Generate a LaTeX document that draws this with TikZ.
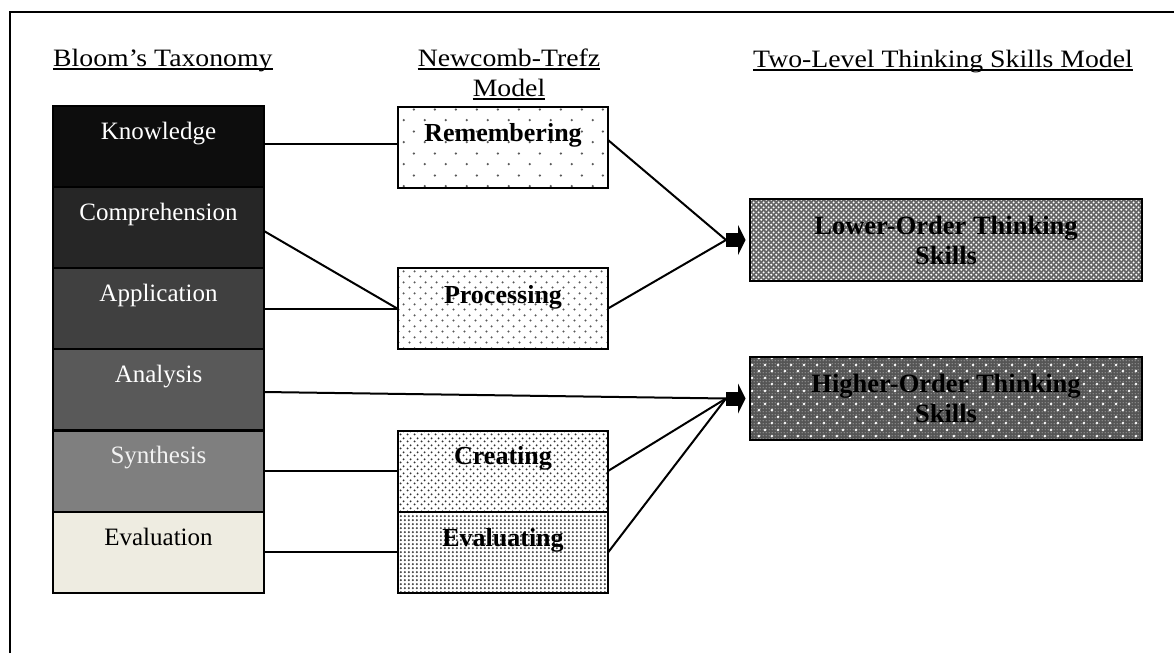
\documentclass[tikz,border=0pt]{standalone}
\usepackage{fontspec}
\setmainfont{Liberation Serif}
\newfontfamily\hdfont[FakeStretch=1.11]{Liberation Serif}
\usetikzlibrary{patterns,calc}

\definecolor{cKnow}{HTML}{0D0D0D}
\definecolor{cComp}{HTML}{262626}
\definecolor{cAppl}{HTML}{404040}
\definecolor{cAnal}{HTML}{595959}
\definecolor{cSynt}{HTML}{7F7F7F}
\definecolor{cEval}{HTML}{EEECE1}
\definecolor{lotsbg}{HTML}{666666}
\definecolor{hotsbg}{HTML}{555555}

\pgfdeclarepatternformonly{dotsA}{\pgfpointorigin}{\pgfpoint{21pt}{22pt}}{\pgfpoint{21pt}{22pt}}{%
  \pgfpathcircle{\pgfpoint{5pt}{5pt}}{1.3pt}\pgfpathcircle{\pgfpoint{15.5pt}{16pt}}{1.3pt}\pgfusepath{fill}}
\pgfdeclarepatternformonly{dotsB}{\pgfpointorigin}{\pgfpoint{11pt}{11pt}}{\pgfpoint{11pt}{11pt}}{%
  \pgfpathcircle{\pgfpoint{2.75pt}{2.75pt}}{1.25pt}\pgfpathcircle{\pgfpoint{8.25pt}{8.25pt}}{1.25pt}\pgfusepath{fill}}
\pgfdeclarepatternformonly{dotsC}{\pgfpointorigin}{\pgfpoint{7pt}{7pt}}{\pgfpoint{7pt}{7pt}}{%
  \pgfpathcircle{\pgfpoint{1.75pt}{1.75pt}}{1.15pt}\pgfpathcircle{\pgfpoint{5.25pt}{5.25pt}}{1.15pt}\pgfusepath{fill}}
\pgfdeclarepatternformonly{dotsD}{\pgfpointorigin}{\pgfpoint{4.3pt}{4.3pt}}{\pgfpoint{4.3pt}{4.3pt}}{%
  \pgfpathcircle{\pgfpoint{2.15pt}{2.15pt}}{1.3pt}\pgfusepath{fill}}
\pgfdeclarepatternformonly{dotsL}{\pgfpointorigin}{\pgfpoint{5.4pt}{5.4pt}}{\pgfpoint{5.4pt}{5.4pt}}{%
  \pgfpathcircle{\pgfpoint{1.35pt}{1.35pt}}{1.2pt}\pgfpathcircle{\pgfpoint{4.05pt}{4.05pt}}{1.2pt}\pgfusepath{fill}}
\pgfdeclarepatternformonly{dotsHf}{\pgfpointorigin}{\pgfpoint{3pt}{3pt}}{\pgfpoint{3pt}{3pt}}{%
  \pgfpathcircle{\pgfpoint{1.5pt}{1.5pt}}{0.65pt}\pgfusepath{fill}}
\pgfdeclarepatternformonly{dotsHb}{\pgfpointorigin}{\pgfpoint{12.6pt}{12.6pt}}{\pgfpoint{12.6pt}{12.6pt}}{%
  \pgfpathcircle{\pgfpoint{3pt}{3pt}}{1.5pt}\pgfpathcircle{\pgfpoint{9.3pt}{9.3pt}}{1.5pt}\pgfusepath{fill}}

\begin{document}
\begin{tikzpicture}[x=1pt,y=-1pt,
  cell/.style={draw=black, line width=2pt, minimum width=211pt, minimum height=81pt, inner sep=0pt, outer sep=0pt},
  celltext/.style={anchor=base, inner sep=0pt, font=\fontsize{25}{30}\selectfont},
  nbox/.style={draw=black, line width=2pt, minimum width=210pt, minimum height=81pt, inner sep=0pt, outer sep=0pt, fill=white},
  ntext/.style={anchor=base, inner sep=0pt, font=\fontsize{26}{30}\selectfont\bfseries},
  bigbox/.style={draw=black, line width=2pt, minimum width=392pt, inner sep=0pt, outer sep=0pt, align=center, font=\fontsize{26.5}{30}\selectfont\bfseries},
  head/.style={anchor=base, inner sep=0pt, font=\fontsize{25}{30}\hdfont},
  uline/.style={line width=1.3pt},
  conn/.style={line width=2pt},
  arrowhd/.pic={\fill (0,-7) rectangle (13,7); \fill (12,-15) -- (19.5,0) -- (12,15) -- cycle;}
]
\useasboundingbox (0,0) rectangle (1174,653);
\fill[white] (0,0) rectangle (1174,653);

% frame
\draw[line width=2pt] (10,653) -- (10,12) -- (1174,12);

% headers
\node[head, anchor=base west] (hbloom) at (53,66) {Bloom’s Taxonomy};
\node[head] (hnt1) at (509,66) {Newcomb-Trefz};
\node[head] (hnt2) at (509,96) {Model};
\node[head, anchor=base east] (htl) at (1133,67) {Two-Level Thinking Skills Model};
\draw[uline] ([yshift=-3pt]hbloom.base west) -- ([yshift=-3pt]hbloom.base east);
\draw[uline] ([yshift=-3pt]hnt1.base west) -- ([yshift=-3pt]hnt1.base east);
\draw[uline] ([yshift=-3pt]hnt2.base west) -- ([yshift=-3pt]hnt2.base east);
\draw[uline] ([yshift=-3pt]htl.base west) -- ([yshift=-3pt]htl.base east);

% Bloom column
\node[cell, fill=cKnow] (know) at (158.5,146.5) {};
\node[cell, fill=cComp] (comp) at (158.5,227.5) {};
\node[cell, fill=cAppl] (appl) at (158.5,308.5) {};
\node[cell, fill=cAnal] (anal) at (158.5,389.5) {};
\node[cell, fill=cSynt] (synt) at (158.5,471) {};
\node[cell, fill=cEval] (eval) at (158.5,552.5) {};
\node[celltext, text=white] (tknow) at ($(know.north)+(0,33)$) {Knowledge};
\node[celltext, text=white] (tcomp) at ($(comp.north)+(0,33)$) {Comprehension};
\node[celltext, text=white] (tappl) at ($(appl.north)+(0,33)$) {Application};
\node[celltext, text=white] (tanal) at ($(anal.north)+(0,33)$) {Analysis};
\node[celltext, text=black!5] (tsynt) at ($(synt.north)+(0,33)$) {Synthesis};
\node[celltext, text=black] (teval) at ($(eval.north)+(0,33)$) {Evaluation};

% Newcomb-Trefz column
\node[nbox, postaction={pattern=dotsA, pattern color=black!65}] (rem) at (503,147) {};
\node[nbox, postaction={pattern=dotsB, pattern color=black!65}] (proc) at (503,308.5) {};
\node[nbox, postaction={pattern=dotsC, pattern color=black!80}] (cre) at (503,471) {};
\node[nbox, postaction={pattern=dotsD, pattern color=black!75}] (evl) at (503,552.5) {};
\draw[line width=2pt] (rem.south west) rectangle (rem.north east);
\draw[line width=2pt] (proc.south west) rectangle (proc.north east);
\draw[line width=2pt] (cre.south west) rectangle (cre.north east);
\draw[line width=2pt] (evl.south west) rectangle (evl.north east);
\node[ntext] (trem) at ($(rem.north)+(0,35)$) {Remembering};
\node[ntext] (tproc) at ($(proc.north)+(0,35)$) {Processing};
\node[ntext] (tcre) at ($(cre.north)+(0,34)$) {Creating};
\node[ntext] (tevl) at ($(evl.north)+(0,34)$) {Evaluating};

% Two-level column
\node[bigbox, minimum height=82pt, preaction={fill=lotsbg}, pattern=dotsL, pattern color=white] (lots) at (946,240) {};
\draw[line width=2pt] (lots.south west) rectangle (lots.north east);
\node[bigbox, draw=none] (tlots) at (lots.center) {Lower-Order Thinking\\Skills};
\node[bigbox, minimum height=83pt, preaction={fill=hotsbg}, preaction={pattern=dotsHb, pattern color=white}, pattern=dotsHf, pattern color=white!85!black] (hots) at (946,398.5) {};
\draw[line width=2pt] (hots.south west) rectangle (hots.north east);
\node[bigbox, draw=none] (thots) at (hots.center) {Higher-Order Thinking\\Skills};

\coordinate (lotsin) at ($(lots.west)+(-24,0)$);
\coordinate (hotsin) at ($(hots.west)+(-24,0)$);

% connectors
\draw[conn] ($(know.east)+(0,-2.5)$) -- ($(rem.west)+(0,-3)$);
\draw[conn] ($(comp.east)+(0,3.5)$) -- ($(proc.west)+(0,0.5)$);
\draw[conn] ($(appl.east)+(0,0.5)$) -- ($(proc.west)+(0,0.5)$);
\draw[conn] ($(anal.east)+(0,2.5)$) -- (hotsin);
\draw[conn] (synt.east) -- (cre.west);
\draw[conn] ($(eval.east)+(0,-0.5)$) -- ($(evl.west)+(0,-0.5)$);
\draw[conn] ($(rem.east)+(0,-7)$) -- (lotsin);
\draw[conn] (proc.east) -- (lotsin);
\draw[conn] (cre.east) -- (hotsin);
\draw[conn] (evl.east) -- (hotsin);
\pic at (lotsin) {arrowhd};
\pic at (hotsin) {arrowhd};
\end{tikzpicture}
\end{document}
